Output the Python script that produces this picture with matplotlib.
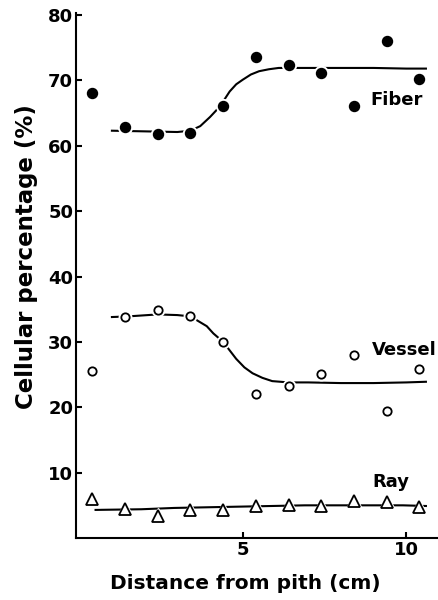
import matplotlib
matplotlib.use('Agg')
import matplotlib.pyplot as plt

plt.rcParams['font.family'] = 'DejaVu Sans'
plt.rcParams['font.weight'] = 'bold'
plt.rcParams['axes.labelweight'] = 'bold'
plt.rcParams['axes.linewidth'] = 1.5

# measured points (distance from pith in cm, cellular percentage)
dist = [0.4, 1.4, 2.4, 3.4, 4.4, 5.4, 6.4, 7.4, 8.4, 9.4, 10.4]
fiber = [68.0, 62.8, 61.8, 61.9, 66.1, 73.5, 72.3, 71.2, 66.1, 76.0, 70.2]
vessel = [25.5, 33.8, 34.8, 34.0, 30.0, 22.1, 23.2, 25.1, 28.0, 19.5, 25.9]
ray = [5.9, 4.4, 3.3, 4.3, 4.3, 4.9, 5.0, 4.9, 5.7, 5.5, 4.7]

# hand-drawn trend curves
fiber_fit_x = [1.0, 2.0, 3.0, 3.4, 3.7, 4.0, 4.3, 4.6, 4.8, 5.0, 5.25, 5.5, 5.8,
               6.1, 7.0, 8.0, 9.0, 10.0, 10.6]
fiber_fit_y = [62.3, 62.2, 62.1, 62.3, 63.0, 64.4, 66.0, 68.3, 69.4, 70.1, 70.9,
               71.4, 71.7, 71.9, 71.9, 71.9, 71.9, 71.8, 71.8]
vessel_fit_x = [1.0, 1.5, 2.4, 3.0, 3.4, 3.9, 4.1, 4.4, 4.6, 4.8, 5.05, 5.3, 5.6,
                5.9, 6.4, 7.0, 8.0, 9.0, 10.0, 10.6]
vessel_fit_y = [33.8, 33.9, 34.2, 34.1, 33.9, 32.4, 31.3, 30.0, 28.7, 27.4, 26.1,
                25.2, 24.5, 24.0, 23.8, 23.8, 23.7, 23.7, 23.8, 23.9]
ray_fit_x = [0.5, 1.9, 2.9, 3.9, 4.9, 5.9, 6.9, 7.9, 8.9, 9.9, 10.6]
ray_fit_y = [4.3, 4.4, 4.6, 4.7, 4.8, 4.9, 5.0, 5.0, 5.0, 5.0, 4.9]

fig = plt.figure(figsize=(4.39, 6.0), dpi=100)
ax = fig.add_axes([0.173, 0.1033, 0.827, 0.875])

ax.plot(fiber_fit_x, fiber_fit_y, color='black', lw=1.5, zorder=2)
ax.plot(vessel_fit_x, vessel_fit_y, color='black', lw=1.5, zorder=2)
ax.plot(ray_fit_x, ray_fit_y, color='black', lw=1.5, zorder=2)

# white halo under each marker so the curve looks broken around it
ax.plot(dist, fiber, 'o', ms=10, color='white', zorder=3)
ax.plot(dist, fiber, 'o', ms=7.2, color='black', zorder=4)
ax.plot(dist, vessel, 'o', ms=9, color='white', zorder=3)
ax.plot(dist, vessel, 'o', ms=6, mfc='white', mec='black', mew=1.3, zorder=4)
ax.plot(dist, ray, '^', ms=11, color='white', zorder=3)
ax.plot(dist, ray, '^', ms=8, mfc='white', mec='black', mew=1.3, zorder=4)

ax.text(8.9, 67.0, 'Fiber', fontsize=13, va='center', ha='left')
ax.text(8.95, 28.7, 'Vessel', fontsize=13, va='center', ha='left')
ax.text(8.95, 8.6, 'Ray', fontsize=13, va='center', ha='left')

ax.set_xlim(-0.1, 11.0)
ax.set_ylim(0, 80.3)
ax.set_xticks([5, 10])
ax.set_yticks([10, 20, 30, 40, 50, 60, 70, 80])
ax.tick_params(direction='in', length=4, width=1.5, labelsize=13, pad=2)
ax.spines['top'].set_visible(False)
ax.spines['right'].set_visible(False)

ax.set_xlabel('Distance from pith (cm)', fontsize=14.5)
ax.xaxis.set_label_coords(0.466, -0.068)
ax.set_ylabel('Cellular percentage (%)', fontsize=16.5)
ax.yaxis.set_label_coords(-0.105, (538 - 258) / 523)

fig.savefig('out.png', dpi=100)
